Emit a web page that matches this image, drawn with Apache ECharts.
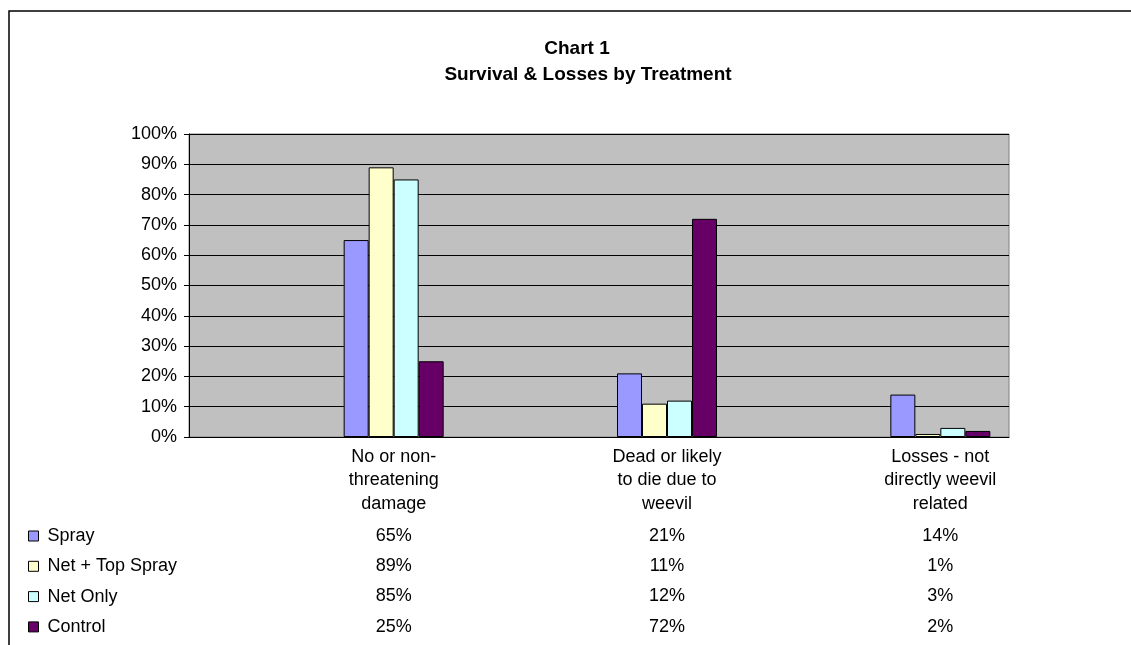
<!DOCTYPE html>
<html>
<head>
<meta charset="utf-8">
<script src="https://cdn.jsdelivr.net/npm/echarts@6/dist/echarts.min.js"></script>
<style>
html,body{margin:0;padding:0;background:#fff;}
#chart{width:1131px;height:645px;}
</style>
</head>
<body>
<div id="chart"></div>
<script>
var categories = ['No or non-\nthreatening\ndamage', 'Dead or likely\nto die due to\nweevil', 'Losses - not\ndirectly weevil\nrelated'];
var seriesNames = ['Spray', 'Net + Top Spray', 'Net Only', 'Control'];
var spray = [65, 21, 14];
var netTopSpray = [89, 11, 1];
var netOnly = [85, 12, 3];
var control = [25, 72, 2];
var yTicks = [0, 10, 20, 30, 40, 50, 60, 70, 80, 90, 100];
var colors = ['#9999FF', '#FFFFCC', '#CCFFFF', '#660066'];

var allValues = [spray, netTopSpray, netOnly, control];
var FONT = "'Liberation Sans', Arial, sans-serif";
var FS = 18;

var chart = echarts.init(document.getElementById('chart'));

var xAxes = [
  { gridIndex: 0, type: 'category', data: [''], axisLine: { show: true, lineStyle: { color: '#000', width: 1 } }, axisTick: { show: false }, axisLabel: { show: false }, splitLine: { show: false } },
  { gridIndex: 1, type: 'category', data: categories, axisLine: { show: false }, axisTick: { show: false },
    axisLabel: { fontSize: FS, fontFamily: FONT, color: '#000', lineHeight: 23.5, margin: 8, interval: 0 } }
];
var rowOffsets = [90, 120, 150, 181];
allValues.forEach(function (vals, i) {
  xAxes.push({
    gridIndex: 1, type: 'category', data: categories, position: 'bottom', offset: rowOffsets[i],
    axisLine: { show: false }, axisTick: { show: false },
    axisLabel: { interval: 0, margin: 0, fontSize: FS, fontFamily: FONT, color: '#000',
      formatter: (function (v) { return function (value, idx) { return v[idx] + '%'; }; })(vals) }
  });
});

var option = {
  animation: false,
  backgroundColor: '#fff',
  title: [
    { text: 'Chart 1', left: 577, top: 37, textAlign: 'center', padding: 0,
      textStyle: { fontSize: 19, fontWeight: 'bold', fontFamily: FONT, color: '#000', lineHeight: 24 } },
    { text: 'Survival & Losses by Treatment', left: 588, top: 63, textAlign: 'center', padding: 0,
      textStyle: { fontSize: 19, fontWeight: 'bold', fontFamily: FONT, color: '#000', lineHeight: 24 } }
  ],
  legend: {
    orient: 'vertical', left: 28, top: 525, padding: 0, itemGap: 8.3,
    itemWidth: 10, itemHeight: 10, icon: 'rect',
    data: seriesNames,
    textStyle: { fontSize: FS, fontFamily: FONT, color: '#000', lineHeight: 22, padding: [0, 0, 0, 4] },
    itemStyle: { borderColor: '#000', borderWidth: 1 }
  },
  graphic: [
    { type: 'rect', z: 100, silent: true, shape: { x: 9, y: 11, width: 1300, height: 800 },
      style: { fill: 'none', stroke: '#000', lineWidth: 1.5 } }
  ],
  grid: [
    { left: 189, top: 134, width: 820, height: 303, show: true, backgroundColor: '#C0C0C0', borderColor: '#808080', borderWidth: 1 },
    { left: 257, top: 134, width: 820, height: 303 }
  ],
  xAxis: xAxes,
  yAxis: [
    { gridIndex: 0, type: 'value', min: 0, max: 100, interval: 10,
      axisLine: { show: true, lineStyle: { color: '#000' } },
      axisTick: { show: true, length: 5, lineStyle: { color: '#000' } },
      axisLabel: { fontSize: FS, fontFamily: FONT, color: '#000', margin: 12,
        customValues: yTicks, formatter: '{value}%' },
      splitLine: { show: true, lineStyle: { color: '#000', width: 1 } } },
    { gridIndex: 1, type: 'value', min: 0, max: 100, show: false, splitLine: { show: false } }
  ],
  series: allValues.map(function (vals, i) {
    return {
      name: seriesNames[i], type: 'bar', xAxisIndex: 1, yAxisIndex: 1,
      data: vals, barWidth: 25, barGap: '0%',
      itemStyle: { color: colors[i], borderColor: '#000', borderWidth: 1 }
    };
  })
};
chart.setOption(option);
</script>
</body>
</html>
